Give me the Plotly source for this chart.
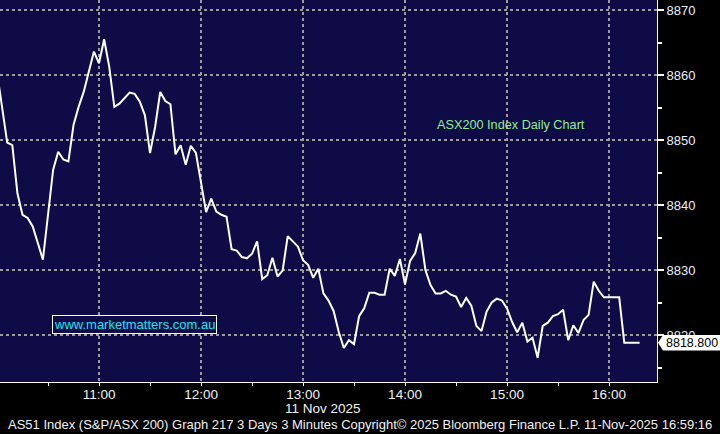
import pandas as pd
import plotly.graph_objects as go

# ---- data ----
start_time = "2025-11-11 10:00"
interval = "3min"
asx200 = [
    8860.4, 8855.0, 8849.6, 8849.2, 8841.8, 8838.5, 8838.0, 8836.7, 8834.2, 8831.6,
    8838.5, 8845.4, 8848.2, 8847.0, 8846.7, 8852.3, 8855.1, 8857.4, 8860.5, 8863.6,
    8861.8, 8865.5, 8861.3, 8855.1, 8855.6, 8856.4, 8857.3, 8857.1, 8855.9, 8853.8,
    8848.0, 8852.0, 8857.4, 8856.0, 8855.5, 8847.8, 8849.2, 8846.2, 8849.1, 8848.0,
    8843.5, 8838.9, 8841.0, 8839.0, 8838.5, 8838.2, 8833.2, 8833.0, 8832.0, 8831.8,
    8832.5, 8834.4, 8828.6, 8829.2, 8831.9, 8829.0, 8829.9, 8835.2, 8834.4, 8833.6,
    8831.5, 8830.8, 8828.8, 8830.2, 8826.4, 8825.3, 8823.7, 8820.5, 8818.0, 8819.2,
    8818.6, 8822.9, 8824.1, 8826.5, 8826.5, 8826.2, 8826.2, 8830.2, 8829.1, 8831.7,
    8827.8, 8831.4, 8832.6, 8835.6, 8830.0, 8827.7, 8826.4, 8826.4, 8826.8, 8826.2,
    8825.9, 8824.3, 8825.7, 8824.5, 8821.4, 8820.6, 8823.6, 8825.0, 8825.6, 8825.3,
    8824.1, 8822.0, 8820.4, 8821.9, 8819.0, 8819.6, 8816.5, 8821.4, 8821.9, 8822.9,
    8823.2, 8823.9, 8819.2, 8821.5, 8820.3, 8822.3, 8823.1, 8828.2, 8826.8, 8825.8,
    8825.8, 8825.8, 8825.8, 8818.8, 8818.8, 8818.8, 8818.8,
]
last_value = 8818.800
x_range = ["2025-11-11 10:01:45", "2025-11-11 16:28:14"]
y_range = [8812.77, 8871.54]
chart_title = "ASX200 Index Daily Chart"
watermark = "www.marketmatters.com.au"
date_label = "11 Nov 2025"
footer = ("AS51 Index (S&P/ASX 200) Graph 217 3 Days 3 Minutes Copyright\u00a9 2025 "
          "Bloomberg Finance L.P. 11-Nov-2025 16:59:16")

times = pd.date_range(start_time, periods=len(asx200), freq=interval)

NAVY = "#0e0b47"
GRID = "#9c9c9c"
SANS = "Arial, Liberation Sans, sans-serif"

fig = go.Figure()
fig.add_trace(go.Scatter(x=times, y=asx200, mode="lines",
                         line=dict(color="white", width=2), hoverinfo="skip"))

fig.update_layout(
    width=720, height=434,
    margin=dict(l=0, r=63, t=0, b=52, autoexpand=False),
    paper_bgcolor="black", plot_bgcolor=NAVY,
    showlegend=False,
    xaxis=dict(
        type="date", range=x_range, automargin=False,
        dtick=3600000, tick0="2025-11-11 11:00", tickformat="%H:%M",
        showgrid=True, gridcolor=GRID, griddash="dot", gridwidth=2,
        showline=True, linecolor="white", linewidth=1,
        ticks="outside", ticklen=3, tickcolor="white", tickwidth=1,
        minor=dict(dtick=1800000, ticks="outside", ticklen=3, tickcolor="white",
                   showgrid=False),
        tickfont=dict(family=SANS, size=13.5, color="#f2f2f2"),
        ticklabelstandoff=-3,
        zeroline=False, fixedrange=True,
    ),
    yaxis=dict(
        side="right", range=y_range, automargin=False,
        dtick=10, tick0=8820,
        showgrid=True, gridcolor=GRID, griddash="dot", gridwidth=2,
        showline=True, linecolor="white", linewidth=1,
        ticks="outside", ticklen=6, tickcolor="white", tickwidth=2,
        minor=dict(dtick=5, ticks="outside", ticklen=4, tickcolor="white",
                   showgrid=False),
        tickfont=dict(family=SANS, size=13, color="#e8eeff"),
        zeroline=False, fixedrange=True,
    ),
)

# last-value callout (pointed white box)
W = 657.0
fig.add_shape(
    type="path", xref="paper", yref="y", layer="above",
    path=(f"M {658/W},{last_value} L {663/W},{last_value + 1.2} "
          f"L {720/W},{last_value + 1.2} L {720/W},{last_value - 1.2} "
          f"L {663/W},{last_value - 1.2} Z"),
    fillcolor="white", line=dict(width=0),
)
fig.add_annotation(x=664/W, y=last_value, xref="paper", yref="y",
                   xanchor="left", yanchor="middle", showarrow=False,
                   text=f"{last_value:.3f}",
                   font=dict(family=SANS, size=12.5, color="black"))

H = 382.0
def note(px, py, text, **kw):
    fig.add_annotation(x=px/W, y=(H-py)/H, xref="paper", yref="paper",
                       xanchor="center", yanchor="middle", showarrow=False,
                       text=text, **kw)

note(511, 125, chart_title, font=dict(family=SANS, size=12.7, color="#8ef08e"))
note(134.5, 324, watermark, bordercolor="white", borderwidth=1, borderpad=1,
     bgcolor=NAVY, font=dict(family=SANS, size=13, color="#19e6f0"))
note(323, 408, date_label, font=dict(family=SANS, size=13.5, color="#f2f2f2"))
note(360, 425, footer, font=dict(family=SANS, size=13, color="#f2f2f2"))

fig.write_html("out.html", config={"displayModeBar": False},
               post_script="document.body.style.margin='0px';")
